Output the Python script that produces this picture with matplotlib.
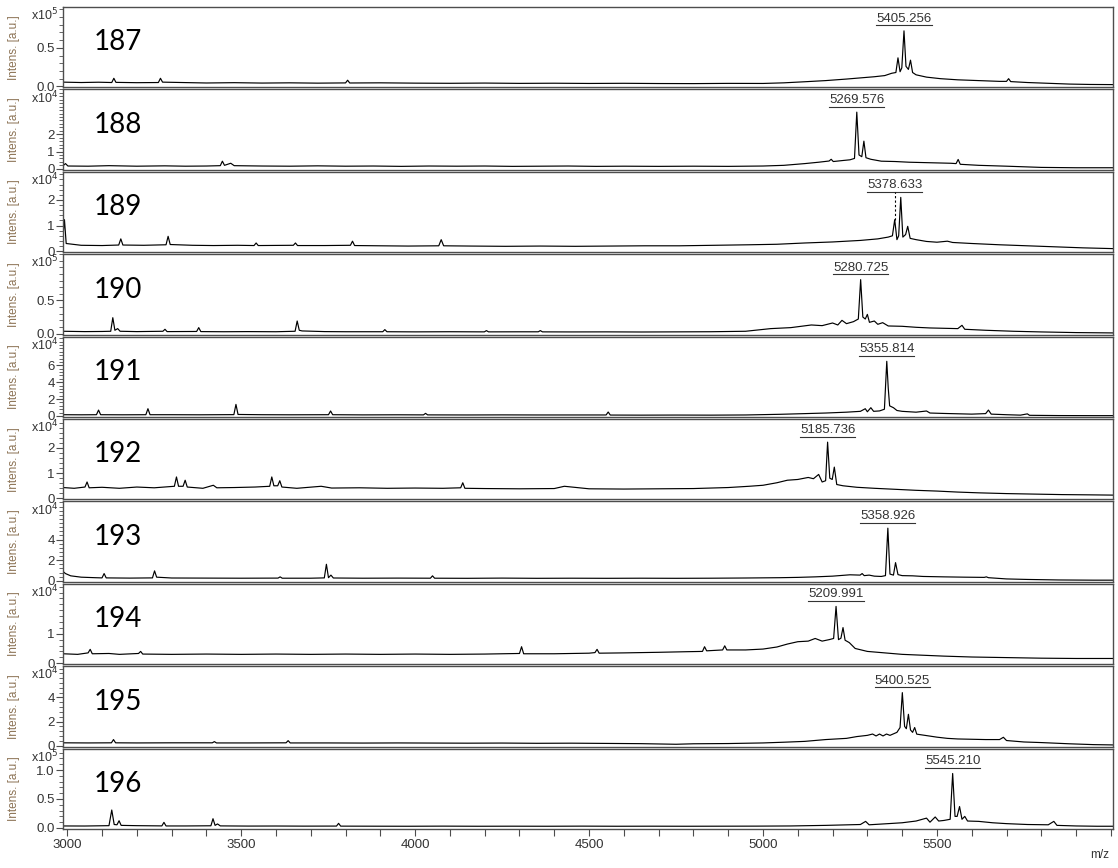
import numpy as np
import matplotlib
matplotlib.use("Agg")
import matplotlib.pyplot as plt
from matplotlib.ticker import FixedLocator, MultipleLocator, FuncFormatter
from matplotlib.lines import Line2D

plt.rcParams['font.family'] = ['Liberation Sans', 'DejaVu Sans']

# spectra: m/z and intensity [a.u.]
mz_187 = [2988, 3040, 3090, 3128, 3134, 3140, 3200, 3262, 3268, 3274, 3330, 3400, 3480, 3560, 3640, 3720, 3800,
          3806, 3812, 3900, 4000, 4100, 4200, 4300, 4400, 4500, 4600, 4700, 4800, 4900, 5000, 5060, 5120, 5180,
          5240, 5280, 5320, 5350, 5370, 5382, 5388, 5394, 5399, 5405.3, 5411, 5418, 5424, 5430, 5440, 5470, 5510,
          5560, 5620, 5680, 5700, 5706, 5712, 5760, 5820, 5880, 5940, 6006]
int_187 = [5500, 5000, 5400, 5000, 10500, 5200, 4800, 5000, 10500, 5500, 5000, 4400, 4800, 4300, 4600, 4200, 4500,
           8000, 4400, 4600, 4200, 4000, 4300, 3900, 4100, 3800, 4000, 3700, 3600, 3900, 3800, 4600, 6000, 7500,
           9500, 11000, 12500, 14000, 17000, 18000, 37000, 19000, 24000, 72000, 26000, 22000, 34000, 18000, 15000,
           12000, 10000, 8500, 7500, 6500, 6500, 10000, 6200, 5000, 4000, 3000, 2500, 2300]

mz_188 = [2988, 2995, 3002, 3060, 3120, 3200, 3280, 3340, 3400, 3440, 3446, 3452, 3470, 3480, 3560, 3640, 3720,
          3800, 3880, 3960, 4040, 4120, 4200, 4280, 4360, 4440, 4520, 4600, 4700, 4800, 4900, 5000, 5060, 5120,
          5160, 5190, 5196, 5202, 5230, 5250, 5263, 5269.6, 5276, 5284, 5290, 5296, 5310, 5340, 5380, 5420, 5460,
          5500, 5540, 5555, 5561, 5567, 5620, 5700, 5800, 5900, 6006]
int_188 = [1800, 3000, 1600, 1500, 1800, 1500, 1700, 1500, 1600, 1800, 4400, 2000, 3200, 1800, 1600, 1500, 1700,
           1500, 1600, 1400, 1600, 1500, 1600, 1400, 1500, 1600, 1400, 1500, 1400, 1500, 1400, 1600, 2000, 3000,
           3800, 4500, 5500, 4200, 4800, 5200, 6000, 32800, 8000, 7000, 16000, 6400, 5500, 4400, 4200, 3800, 3600,
           3400, 3200, 3000, 5400, 2600, 2000, 1500, 800, 600, 600]

mz_189 = [2988, 2992, 2997, 3040, 3100, 3148, 3154, 3160, 3220, 3284, 3290, 3296, 3360, 3420, 3490, 3537, 3543,
          3549, 3650, 3656, 3662, 3740, 3814, 3820, 3826, 3900, 3980, 4068, 4075, 4082, 4160, 4260, 4360, 4460,
          4560, 4660, 4760, 4860, 4960, 5040, 5120, 5200, 5280, 5330, 5360, 5372, 5378.6, 5385, 5390, 5396, 5402,
          5410, 5416, 5423, 5440, 5470, 5500, 5530, 5545, 5600, 5680, 5760, 5840, 5920, 6006]
int_189 = [6000, 12300, 3000, 2300, 2200, 2400, 4800, 2400, 2300, 2500, 5800, 2600, 2300, 2200, 2300, 2200, 3200,
           2200, 2300, 3200, 2200, 2200, 2300, 3900, 2200, 2100, 2000, 2100, 4500, 2100, 2000, 1900, 2000, 1900,
           2000, 2100, 2100, 2300, 2500, 2700, 3200, 3600, 4200, 4800, 5500, 6000, 12300, 4500, 6000, 21000, 5500,
           6500, 9700, 5000, 4500, 3800, 3500, 3900, 3400, 3000, 2500, 2100, 1700, 1300, 1000]

mz_190 = [2988, 3050, 3100, 3125, 3131, 3137, 3145, 3152, 3200, 3275, 3281, 3287, 3372, 3378, 3384, 3450, 3520,
          3600, 3655, 3661, 3667, 3675, 3740, 3800, 3907, 3913, 3919, 4000, 4100, 4199, 4205, 4211, 4300, 4354,
          4360, 4366, 4450, 4550, 4650, 4750, 4850, 4950, 5022, 5080, 5139, 5170, 5200, 5215, 5227, 5240, 5260,
          5274, 5280.7, 5287, 5294, 5300, 5306, 5320, 5330, 5344, 5360, 5400, 5440, 5480, 5520, 5560, 5572, 5580,
          5640, 5720, 5800, 5900, 6006]
int_190 = [3500, 3000, 3200, 3500, 24000, 5000, 7500, 3500, 3000, 3500, 6500, 3000, 3200, 9000, 3000, 2800, 3000,
           2800, 3500, 19000, 5000, 4000, 3000, 2800, 2800, 6000, 2800, 2600, 2800, 2600, 4500, 2600, 2700, 2700,
           4500, 2600, 2500, 2600, 2400, 2600, 2800, 3500, 7500, 9000, 13000, 12000, 16000, 13000, 20000, 15000,
           18000, 22000, 81500, 25000, 22000, 29000, 17000, 19000, 14000, 16500, 11500, 11000, 9500, 8500, 8000,
           7500, 12500, 6500, 5000, 3500, 2500, 1500, 1000]

mz_191 = [2988, 3040, 3084, 3090, 3096, 3160, 3226, 3232, 3238, 3300, 3380, 3479, 3485, 3491, 3560, 3640, 3751,
          3757, 3763, 3850, 3950, 4024, 4030, 4036, 4150, 4250, 4350, 4450, 4549, 4555, 4561, 4650, 4750, 4850,
          4950, 5050, 5120, 5180, 5240, 5280, 5294, 5300, 5310, 5318, 5335, 5349, 5355.8, 5360, 5364, 5375, 5385,
          5400, 5440, 5470, 5480, 5520, 5560, 5600, 5640, 5648, 5656, 5700, 5740, 5760, 5766, 5850, 5950, 6006]
int_191 = [1500, 1400, 1500, 7000, 1500, 1400, 1500, 8600, 1500, 1500, 1400, 1600, 13700, 1800, 1500, 1400, 1500,
           5900, 1500, 1300, 1400, 1300, 3100, 1300, 1200, 1300, 1200, 1200, 1200, 4700, 1100, 1000, 1100, 1000,
           1200, 2000, 2800, 3500, 4500, 5500, 8600, 5000, 9800, 5500, 6000, 8000, 64700, 33000, 12000, 9800,
           6500, 5500, 4500, 5900, 3500, 3000, 2600, 2200, 2800, 7000, 2200, 1500, 1000, 2500, 800, 500, 400, 400]

mz_192 = [2988, 3020, 3051, 3057, 3063, 3100, 3150, 3200, 3250, 3308, 3314, 3320, 3333, 3339, 3345, 3390, 3420,
          3430, 3480, 3540, 3582, 3588, 3594, 3605, 3611, 3617, 3660, 3730, 3760, 3840, 3920, 4000, 4080, 4131,
          4137, 4143, 4200, 4300, 4400, 4429, 4500, 4600, 4700, 4800, 4900, 4960, 5000, 5040, 5070, 5100, 5130,
          5145, 5160, 5170, 5180, 5185.7, 5192, 5199, 5205, 5212, 5230, 5270, 5320, 5380, 5440, 5500, 5560, 5620,
          5700, 5780, 5860, 5940, 6006]
int_192 = [4300, 4000, 4500, 6500, 4200, 4400, 4000, 4500, 4200, 4800, 8500, 4800, 4800, 7200, 4500, 4000, 5200,
           4200, 4300, 4500, 4800, 8500, 5000, 5000, 7000, 4500, 4000, 4800, 4100, 4200, 4000, 4100, 4000, 4200,
           6200, 4000, 3900, 3800, 3900, 4800, 3800, 3700, 3800, 3900, 4300, 4800, 5200, 6200, 7200, 7500, 8300,
           7800, 9500, 6500, 7000, 22300, 8000, 7500, 12400, 5500, 5000, 4400, 4000, 3600, 3200, 2900, 2500, 2200,
           1900, 1700, 1500, 1400, 1300]

mz_193 = [2988, 2995, 3010, 3040, 3080, 3100, 3106, 3112, 3180, 3245, 3251, 3257, 3300, 3400, 3500, 3606, 3612,
          3618, 3700, 3739, 3745, 3751, 3758, 3765, 3850, 3950, 4044, 4050, 4056, 4150, 4250, 4350, 4450, 4550,
          4650, 4750, 4850, 4950, 5050, 5100, 5150, 5200, 5250, 5279, 5285, 5291, 5305, 5320, 5340, 5352, 5358.9,
          5365, 5375, 5381, 5388, 5400, 5430, 5460, 5520, 5580, 5636, 5642, 5648, 5700, 5760, 5850, 5950, 6006]
int_193 = [9000, 7000, 4800, 3500, 3000, 2800, 7000, 2800, 2600, 2800, 9600, 3500, 2700, 2600, 2500, 2600, 3800,
           2500, 2500, 2800, 16000, 3000, 5500, 2700, 2500, 2600, 2500, 4800, 2500, 2400, 2600, 2400, 2500, 2400,
           2500, 2400, 2500, 2700, 3000, 3300, 3800, 4500, 5800, 5500, 7000, 5000, 5500, 4500, 4200, 5000, 51000,
           6500, 5500, 17600, 6000, 5000, 4800, 4200, 3800, 3500, 3300, 3800, 3000, 1800, 1300, 800, 600, 600]

mz_194 = [2988, 3030, 3060, 3066, 3072, 3120, 3150, 3205, 3211, 3217, 3300, 3400, 3500, 3600, 3700, 3800, 3900,
          4000, 4100, 4200, 4300, 4306, 4312, 4400, 4500, 4517, 4523, 4529, 4600, 4700, 4780, 4826, 4832, 4838,
          4884, 4890, 4896, 4950, 5000, 5040, 5070, 5100, 5130, 5150, 5170, 5190, 5203, 5210.0, 5217, 5224, 5230,
          5236, 5248, 5265, 5300, 5350, 5400, 5460, 5520, 5600, 5700, 5800, 5900, 6006]
int_194 = [3200, 3000, 3500, 4700, 3200, 3300, 3000, 3300, 4000, 3100, 3000, 3100, 3000, 3100, 3000, 3100, 3000,
           3100, 3000, 3100, 3300, 5600, 3200, 3200, 3400, 3600, 4700, 3400, 3500, 3700, 3900, 4000, 5600, 4200,
           4500, 5900, 4500, 4500, 4800, 5500, 6500, 7300, 7500, 8400, 7500, 8000, 8400, 19300, 8000, 8500, 12100,
           7800, 7000, 5000, 4000, 3500, 3000, 2700, 2400, 2100, 1900, 1700, 1600, 1600]

mz_195 = [2988, 3060, 3127, 3133, 3139, 3200, 3300, 3417, 3423, 3429, 3520, 3629, 3635, 3641, 3750, 3850, 3950,
          4050, 4150, 4250, 4350, 4450, 4550, 4650, 4750, 4800, 4900, 5000, 5060, 5120, 5180, 5240, 5270, 5300,
          5315, 5325, 5335, 5345, 5355, 5365, 5385, 5394, 5400.5, 5407, 5412, 5418, 5424, 5430, 5436, 5442, 5470,
          5500, 5530, 5560, 5640, 5680, 5691, 5700, 5750, 5800, 5880, 5950, 6006]
int_195 = [2300, 2200, 2300, 5000, 2300, 2200, 2300, 2300, 3300, 2200, 2200, 2300, 4100, 2200, 2200, 2100, 2200,
           2100, 2000, 2100, 1900, 2000, 1800, 1600, 1100, 1500, 1700, 2200, 2800, 3500, 5000, 6000, 7500, 8500,
           9600, 8000, 9600, 8000, 9600, 8500, 11000, 15000, 44000, 16000, 14000, 26000, 13000, 11000, 15000, 9500,
           8300, 7000, 6000, 5500, 5000, 5000, 6900, 4200, 3000, 2500, 1500, 800, 550]

mz_196 = [2988, 3050, 3120, 3128, 3135, 3143, 3149, 3155, 3200, 3272, 3278, 3284, 3340, 3413, 3419, 3425, 3432,
          3440, 3520, 3600, 3680, 3774, 3780, 3786, 3880, 3980, 4080, 4180, 4280, 4380, 4480, 4580, 4680, 4780,
          4880, 4980, 5080, 5180, 5280, 5295, 5305, 5360, 5400, 5440, 5470, 5480, 5495, 5505, 5520, 5538, 5545.2,
          5552, 5558, 5565, 5572, 5580, 5588, 5620, 5660, 5700, 5760, 5820, 5836, 5845, 5900, 5960, 6006]
int_196 = [3500, 3400, 4000, 31000, 6000, 5500, 12500, 4500, 4000, 3600, 9700, 3500, 3500, 3800, 16000, 4500, 7000,
           3600, 3300, 3400, 3200, 3300, 8000, 3200, 3100, 3000, 3200, 3000, 3100, 3000, 3200, 3000, 3100, 3000,
           3100, 3200, 3500, 4500, 6000, 11400, 5500, 7500, 9000, 12000, 17000, 10000, 19000, 12000, 13000, 15000,
           94000, 20000, 20000, 37000, 15000, 20000, 12000, 11400, 9000, 7500, 6000, 5500, 11400, 4500, 3500, 3000,
           3000]

panel_ids = ['187', '188', '189', '190', '191', '192', '193', '194', '195', '196']
spectra_mz = [mz_187, mz_188, mz_189, mz_190, mz_191, mz_192, mz_193, mz_194, mz_195, mz_196]
spectra_int = [int_187, int_188, int_189, int_190, int_191, int_192, int_193, int_194, int_195, int_196]
peak_mz = [5405.256, 5269.576, 5378.633, 5280.725, 5355.814, 5185.736, 5358.926, 5209.991, 5400.525, 5545.210]
y_top = [1.03e5, 4.6e4, 3.1e4, 1.2e5, 9.4e4, 3.15e4, 7.7e4, 2.7e4, 6.6e4, 1.37e5]
y_exp = [5, 4, 4, 5, 4, 4, 4, 4, 4, 5]
y_ticks = [[0, 0.5e5], [0, 1e4, 2e4], [0, 1e4, 2e4], [0, 0.5e5], [0, 2e4, 4e4, 6e4],
           [0, 1e4, 2e4], [0, 2e4, 4e4], [0, 1e4], [0, 2e4, 4e4], [0, 0.5e5, 1.0e5]]
x_ticks = [3000, 3500, 4000, 4500, 5000, 5500]

frame = '#4d4d4d'
fig, axes = plt.subplots(10, 1, figsize=(11.18, 8.68), dpi=100, sharex=True)
fig.subplots_adjust(left=0.0564, right=0.9955, top=0.992, bottom=0.045, hspace=0.025)

labels = []
for i, ax in enumerate(axes):
    x = np.array(spectra_mz[i])
    y = np.array(spectra_int[i])
    ax.plot(x, y, color='black', lw=0.85)
    ax.set_xlim(2988, 6006)
    ax.set_ylim(-0.012 * y_top[i], y_top[i])

    scale = 10 ** y_exp[i]
    fmt = '%.1f' if y_exp[i] == 5 else '%d'
    ax.yaxis.set_major_locator(FixedLocator(y_ticks[i]))
    ax.yaxis.set_minor_locator(MultipleLocator((y_ticks[i][1] - y_ticks[i][0]) / 5))
    ax.yaxis.set_major_formatter(FuncFormatter(lambda v, p, s=scale, f=fmt: f % (v / s)))
    ax.tick_params(axis='y', which='major', length=5, width=0.8, color=frame,
                   labelcolor='#333333', labelsize=9.5, pad=1)
    ax.tick_params(axis='y', which='minor', length=3, width=0.6, color=frame)
    for sp in ax.spines.values():
        sp.set_color(frame)
        sp.set_linewidth(1.0)

    ax.set_ylabel('Intens. [a.u.]', color='#8c7355', fontsize=8.5)
    ax.yaxis.set_label_coords(-0.041, 0.5)
    ax.text(-0.005, 1.0, 'x10$^{%d}$' % y_exp[i], transform=ax.transAxes, ha='right', va='top',
            fontsize=9, color='#333333')
    ax.text(0.029, 0.56, panel_ids[i], transform=ax.transAxes, fontsize=20, family='Lato',
            va='center', ha='left', color='black')

    # peak label over the labelled peak
    k = int(np.argmin(np.abs(x - peak_mz[i])))
    near = np.abs(x - peak_mz[i]) < 25
    top = y[near].max()
    t = ax.annotate('%.3f' % peak_mz[i], xy=(peak_mz[i], top), xytext=(0, 6), textcoords='offset pixels',
                    ha='center', va='bottom', fontsize=9.5, color='#333333')
    labels.append((ax, t, peak_mz[i], y[k], top))

    if i < len(axes) - 1:
        ax.tick_params(axis='x', which='both', length=0, labelbottom=False)

axb = axes[-1]
axb.xaxis.set_major_locator(FixedLocator(x_ticks))
axb.xaxis.set_minor_locator(MultipleLocator(100))
axb.tick_params(axis='x', which='both', length=5, width=0.8, color=frame, labelsize=9.5,
                labelcolor='#333333', pad=2)
fig.text(0.984, 0.012, 'm/z', fontsize=8.5, color='#333333', ha='center')

# underline labels, dotted lead to a labelled peak that is not the tallest
fig.canvas.draw()
inv = fig.transFigure.inverted()
for ax, t, mz, val, top in labels:
    bb = t.get_window_extent()
    p0 = inv.transform((bb.x0, bb.y0 - 0.5))
    p1 = inv.transform((bb.x1, bb.y0 - 0.5))
    fig.add_artist(Line2D([p0[0], p1[0]], [p0[1], p1[1]], color='#333333', lw=0.8))
    if val < top * 0.9:
        px, py = ax.transData.transform((mz, val))
        a = inv.transform((px, py))
        b = inv.transform((px, bb.y0 - 0.5))
        fig.add_artist(Line2D([a[0], b[0]], [a[1], b[1]], color='black', lw=0.8, ls=(0, (2, 2))))

fig.savefig('out.png', dpi=100)
